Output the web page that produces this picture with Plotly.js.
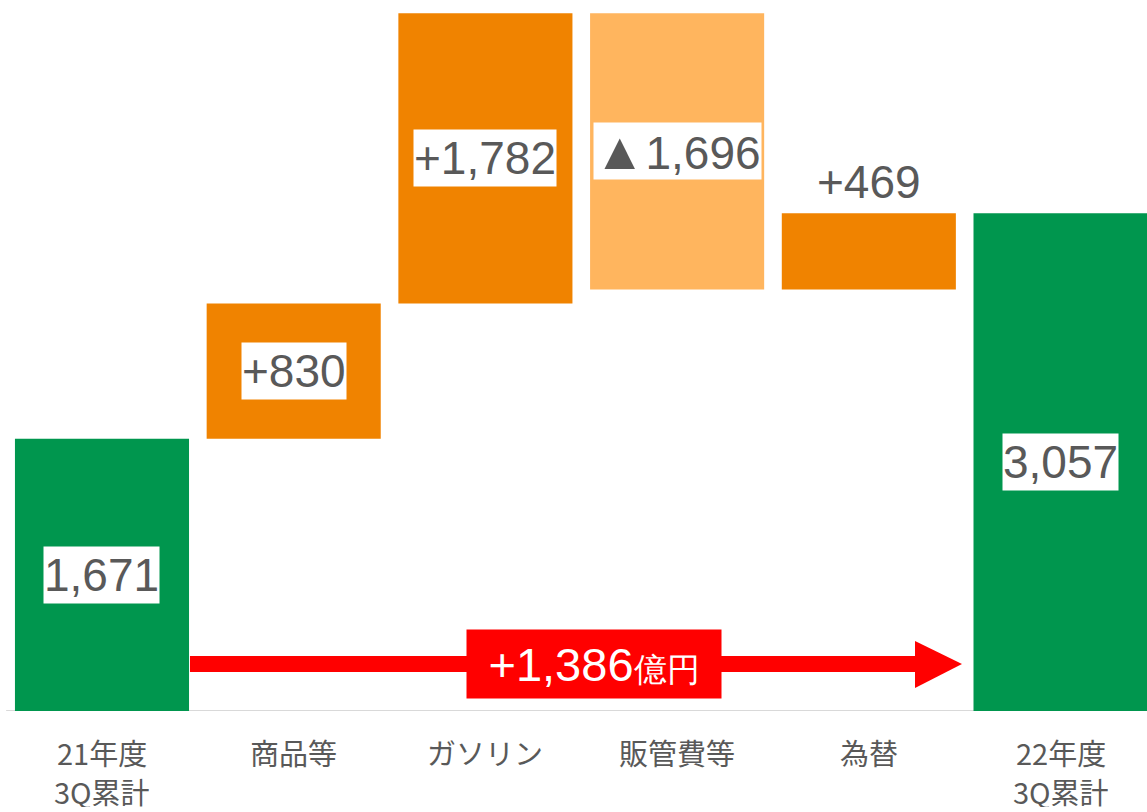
<!DOCTYPE html>
<html>
<head>
<meta charset="utf-8">
<script src="https://cdn.plot.ly/plotly-3.0.1.min.js"></script>
<style>html,body{margin:0;padding:0;background:#fff;}#chart{width:1147px;height:812px;}</style>
</head>
<body>
<div id="chart"></div>
<script>
const categories = ['21年度<br>3Q累計', '商品等', 'ガソリン', '販管費等', '為替', '22年度<br>3Q累計'];
const values = [1671, 830, 1782, -1696, 469, 3057];
const measures = ['absolute', 'relative', 'relative', 'relative', 'relative', 'total'];
const valueLabels = ['1,671', '+830', '+1,782', '▲1,696', '+469', '3,057'];
const diffUnit = '億円';

const GREEN = '#00964E', ORANGE = '#F08300', LIGHT = '#FFB55E', TXT = '#595959';
const NUMFONT = '"Liberation Sans", Arial, "DejaVu Sans", sans-serif';
const JPFONT = '"Noto Sans CJK JP", "Liberation Sans", sans-serif';

const idx = categories.map((c, i) => i);

// cumulative extents
let run = 0;
const bottoms = [], tops = [];
values.forEach((v, i) => {
  if (measures[i] === 'absolute') { bottoms.push(0); tops.push(v); run = v; }
  else if (measures[i] === 'total') { bottoms.push(0); tops.push(run); }
  else { bottoms.push(Math.min(run, run + v)); tops.push(Math.max(run, run + v)); run += v; }
});

const diff = values[values.length - 1] - values[0];
const diffText = '+' + diff.toLocaleString('en-US');

const trace = {
  type: 'waterfall',
  x: idx,
  y: values,
  measure: measures,
  width: 0.908,
  textinfo: 'none',
  hoverinfo: 'skip',
  connector: {visible: false},
  increasing: {marker: {color: ORANGE, line: {width: 0}}},
  decreasing: {marker: {color: LIGHT, line: {width: 0}}},
  totals: {marker: {color: GREEN, line: {width: 0}}}
};

function fmtLabel(s) {
  return s.replace('▲', '<span style="font-size:52px">▲</span>');
}

const annotations = [];
idx.forEach(i => {
  const lbl = fmtLabel(valueLabels[i]);
  if (i === 4) {
    annotations.push({x: i, y: tops[i], xref: 'x', yref: 'y', text: lbl, showarrow: false,
      yanchor: 'bottom', yshift: 3, font: {family: NUMFONT, size: 46, color: TXT}});
  } else {
    annotations.push({x: i, y: (bottoms[i] + tops[i]) / 2, xref: 'x', yref: 'y', text: lbl, showarrow: false,
      bgcolor: '#FFFFFF', borderpad: 0, height: 56, valign: 'middle',
      font: {family: NUMFONT, size: 46, color: TXT}});
  }
  const lines = categories[i].split('<br>');
  lines.forEach((ln, k) => {
    annotations.push({x: i, y: 0, xref: 'x', yref: 'y', text: ln, showarrow: false,
      yanchor: 'middle', yshift: -41 - 39 * k, height: 32, borderpad: 0, valign: 'middle',
      font: {family: JPFONT, size: 29, color: TXT}});
  });
});

// difference box
annotations.push({x: 2.567, y: 288, xref: 'x', yref: 'y', showarrow: false,
  text: diffText + '<span style="font-size:33px">' + diffUnit + '</span>',
  bgcolor: '#FF0000', width: 254, height: 68, borderpad: 0,
  font: {family: NUMFONT, size: 47, color: '#FFFFFF'}});

const shapes = [
  {type: 'line', xref: 'x', yref: 'y', x0: -0.5, x1: 5.6, y0: 0, y1: 0, line: {color: '#D9D9D9', width: 2}, layer: 'below'},
  {type: 'rect', xref: 'x', yref: 'y', x0: 0.459, x1: 4.245, y0: 239, y1: 337, fillcolor: '#FF0000', line: {width: 0}},
  {type: 'path', xref: 'x', yref: 'y', path: 'M 4.241 141 L 4.241 430 L 4.486 288 Z', fillcolor: '#FF0000', line: {width: 0}}
];

const layout = {
  width: 1147, height: 812,
  margin: {l: 0, r: 0, t: 0, b: 101, pad: 0},
  paper_bgcolor: '#FFFFFF', plot_bgcolor: '#FFFFFF',
  showlegend: false,
  xaxis: {range: [-0.532, 5.451], showgrid: false, zeroline: false, showticklabels: false, ticks: '', fixedrange: true},
  yaxis: {range: [0, 4365], showgrid: false, zeroline: false, showticklabels: false, ticks: '', fixedrange: true},
  annotations: annotations,
  shapes: shapes
};

Plotly.newPlot('chart', [trace], layout, {displayModeBar: false, staticPlot: true});
</script>
</body>
</html>
